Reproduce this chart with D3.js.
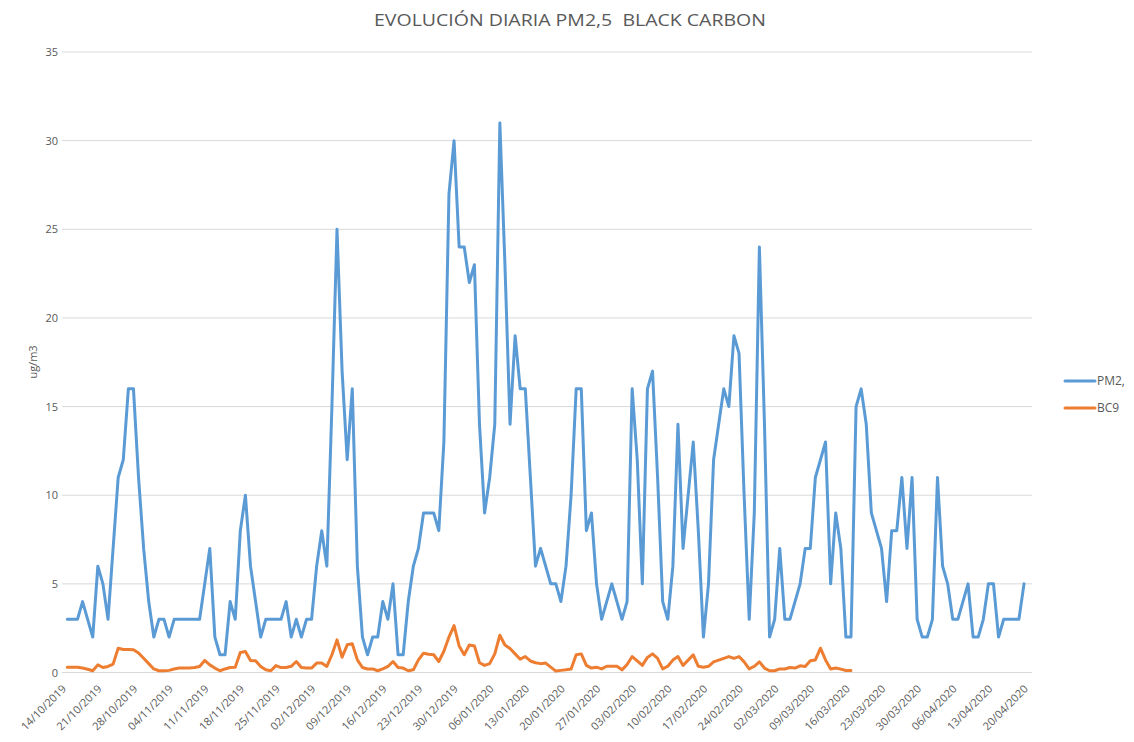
<!DOCTYPE html>
<html>
<head>
<meta charset="utf-8">
<script src="https://cdn.jsdelivr.net/npm/d3@7"></script>
<style>
  body { margin: 0; background: #fff; }
  text { font-family: "Open Sans", "Liberation Sans", sans-serif; fill: #595959; }
</style>
</head>
<body>
<div class="chart"></div>
<script>
// daily values, 14/10/2019 onwards
const startDate = '14/10/2019';

const pm25 = [
  3, 3, 3, 4, 3, 2, 6, 5, 3, 7, 11, 12, 16, 16, 11, 7, 4, 2, 3, 3,
  2, 3, 3, 3, 3, 3, 3, 5, 7, 2, 1, 1, 4, 3, 8, 10, 6, 4, 2, 3,
  3, 3, 3, 4, 2, 3, 2, 3, 3, 6, 8, 6, 15, 25, 17, 12, 16, 6, 2, 1,
  2, 2, 4, 3, 5, 1, 1, 4, 6, 7, 9, 9, 9, 8, 13, 27, 30, 24, 24, 22,
  23, 14, 9, 11, 14, 31, 23, 14, 19, 16, 16, 11, 6, 7, 6, 5, 5, 4, 6, 10,
  16, 16, 8, 9, 5, 3, 4, 5, 4, 3, 4, 16, 12, 5, 16, 17, 11, 4, 3, 6,
  14, 7, 10, 13, 8, 2, 5, 12, 14, 16, 15, 19, 18, 10, 3, 9, 24, 14, 2, 3,
  7, 3, 3, 4, 5, 7, 7, 11, 12, 13, 5, 9, 7, 2, 2, 15, 16, 14, 9, 8,
  7, 4, 8, 8, 11, 7, 11, 3, 2, 2, 3, 11, 6, 5, 3, 3, 4, 5, 2, 2,
  3, 5, 5, 2, 3, 3, 3, 3, 5
];

const bc9 = [
  0.3, 0.3, 0.3, 0.25, 0.18, 0.1, 0.43, 0.28, 0.34, 0.47, 1.37, 1.3, 1.3, 1.28, 1.1, 0.8, 0.5, 0.2, 0.1, 0.1,
  0.12, 0.2, 0.25, 0.25, 0.25, 0.28, 0.34, 0.68, 0.43, 0.25, 0.1, 0.2, 0.28, 0.3, 1.13, 1.18, 0.68, 0.66, 0.34, 0.15,
  0.1, 0.39, 0.28, 0.28, 0.35, 0.62, 0.28, 0.25, 0.25, 0.53, 0.53, 0.34, 1.0, 1.84, 0.86, 1.56, 1.62, 0.71, 0.28, 0.2,
  0.2, 0.1, 0.2, 0.34, 0.62, 0.28, 0.25, 0.1, 0.15, 0.71, 1.09, 1.03, 1.0, 0.62, 1.2, 2.0, 2.65, 1.5, 1.0, 1.55,
  1.5, 0.55, 0.4, 0.5, 1.05, 2.1, 1.55, 1.35, 1.05, 0.75, 0.9, 0.65, 0.55, 0.5, 0.53, 0.3, 0.08, 0.12, 0.15, 0.2,
  1.0, 1.05, 0.4, 0.25, 0.3, 0.2, 0.35, 0.35, 0.35, 0.15, 0.45, 0.9, 0.65, 0.4, 0.85, 1.05, 0.8, 0.2, 0.35, 0.7,
  0.9, 0.4, 0.7, 1.0, 0.35, 0.3, 0.35, 0.6, 0.7, 0.8, 0.9, 0.8, 0.9, 0.6, 0.2, 0.35, 0.6, 0.25, 0.1, 0.1,
  0.2, 0.2, 0.28, 0.25, 0.38, 0.34, 0.66, 0.71, 1.37, 0.71, 0.2, 0.25, 0.19, 0.11, 0.11
];

const tickLabels = [
  '14/10/2019', '21/10/2019', '28/10/2019', '04/11/2019', '11/11/2019', '18/11/2019', '25/11/2019',
  '02/12/2019', '09/12/2019', '16/12/2019', '23/12/2019', '30/12/2019', '06/01/2020', '13/01/2020',
  '20/01/2020', '27/01/2020', '03/02/2020', '10/02/2020', '17/02/2020', '24/02/2020', '02/03/2020',
  '09/03/2020', '16/03/2020', '23/03/2020', '30/03/2020', '06/04/2020', '13/04/2020', '20/04/2020'
];

const yTicks = [0, 5, 10, 15, 20, 25, 30, 35];
const seriesNames = ['PM2,', 'BC9'];
const colors = ['#5b9bd5', '#ed7d31'];

const width = 1134;
const height = 742;

const parse = d3.timeParse('%d/%m/%Y');
const fmt = d3.timeFormat('%d/%m/%Y');
const t0 = parse(startDate);
const tickDates = tickLabels.map(parse);

const x = d3.scaleTime()
  .domain([t0, tickDates[tickDates.length - 1]])
  .range([67.3, 1029.1]);

const y = d3.scaleLinear()
  .domain([0, 35])
  .range([672.5, 52]);

const svg = d3.select('.chart')
  .append('svg')
  .attr('width', width)
  .attr('height', height);

// title (keeps the double space)
svg.append('text')
  .attr('x', 570)
  .attr('y', 26)
  .attr('text-anchor', 'middle')
  .attr('textLength', 392)
  .attr('lengthAdjust', 'spacingAndGlyphs')
  .style('font-size', '17px')
  .style('white-space', 'pre')
  .text('EVOLUCIÓN DIARIA PM2,5  BLACK CARBON');

// gridlines
svg.append('g')
  .selectAll('line')
  .data(yTicks)
  .enter()
    .append('line')
    .attr('x1', 62)
    .attr('x2', 1032)
    .attr('y1', d => y(d))
    .attr('y2', d => y(d))
    .attr('stroke', '#d9d9d9')
    .attr('stroke-width', 1);

// y axis
const yAxis = svg.append('g')
  .attr('transform', 'translate(58,0)')
  .call(d3.axisLeft(y).tickValues(yTicks).tickSize(0).tickPadding(0));
yAxis.select('.domain').remove();
yAxis.selectAll('text')
  .style('font-size', '11px')
  .attr('fill', '#595959');

svg.append('text')
  .attr('transform', 'translate(37,362) rotate(-90)')
  .attr('text-anchor', 'middle')
  .style('font-size', '11px')
  .text('ug/m3');

// x axis
const xAxis = svg.append('g')
  .attr('transform', `translate(0,${y(0)})`)
  .call(d3.axisBottom(x).tickValues(tickDates).tickFormat(fmt).tickSize(0));
xAxis.select('.domain').remove();
xAxis.selectAll('text')
  .style('font-size', '11px')
  .attr('fill', '#595959')
  .attr('text-anchor', 'end')
  .attr('dy', 0)
  .attr('transform', 'translate(-3,15) rotate(-45)');

// lines
const line = d3.line()
  .x((d, i) => x(d3.timeDay.offset(t0, i)))
  .y(d => y(d));

[pm25, bc9].forEach((s, k) => {
  svg.append('path')
    .datum(s)
    .attr('d', line)
    .attr('fill', 'none')
    .attr('stroke', colors[k])
    .attr('stroke-width', 3)
    .attr('stroke-linejoin', 'round')
    .attr('stroke-linecap', 'round');
});

// legend
const legend = svg.append('g')
  .selectAll('g')
  .data(seriesNames)
  .enter()
    .append('g')
    .attr('transform', (d, i) => `translate(1065,${381 + i * 27})`);

legend.append('line')
  .attr('x1', 0)
  .attr('x2', 30)
  .attr('stroke', (d, i) => colors[i])
  .attr('stroke-width', 3)
  .attr('stroke-linecap', 'round');

legend.append('text')
  .attr('x', 32)
  .attr('dy', '0.35em')
  .style('font-size', '12px')
  .text(d => d);
</script>
</body>
</html>
